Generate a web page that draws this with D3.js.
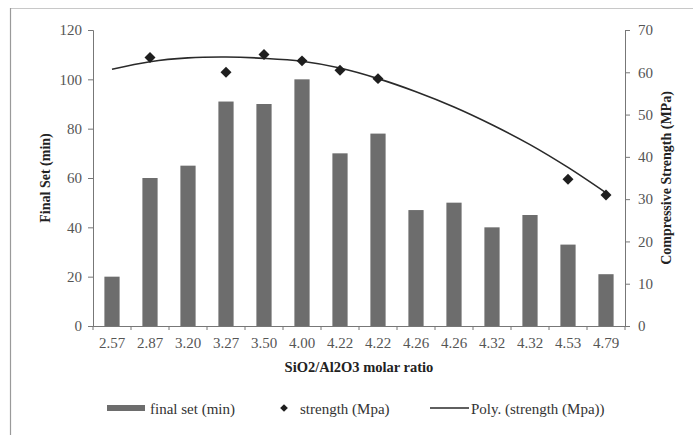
<!DOCTYPE html>
<html>
<head>
<meta charset="utf-8">
<script src="https://cdn.jsdelivr.net/npm/d3@7"></script>
<style>
  body { margin: 0; background: #fff; }
</style>
</head>
<body>
<svg id="chart" width="693" height="435" font-family="Liberation Serif, Times New Roman, serif"></svg>
<script>
// category labels (SiO2/Al2O3 molar ratio)
const ratios = ["2.57", "2.87", "3.20", "3.27", "3.50", "4.00", "4.22", "4.22", "4.26", "4.26", "4.32", "4.32", "4.53", "4.79"];
// final set time (min), left axis
const finalSet = [20, 60, 65, 91, 90, 100, 70, 78, 47, 50, 40, 45, 33, 21];
// compressive strength (MPa), right axis, null = not measured
const strength = [null, 63.5, null, 60, 64.2, 62.7, 60.5, 58.5, null, null, null, null, 34.7, 31];
// polynomial trendline at each category
const trend = [60.7, 62.5, 63.4, 63.6, 63.3, 62.6, 61.0, 58.5, 55.4, 51.8, 47.6, 42.9, 37.5, 31.5];
const leftTicks = [0, 20, 40, 60, 80, 100, 120];
const rightTicks = [0, 10, 20, 30, 40, 50, 60, 70];

const serif = "Liberation Serif, Times New Roman, serif";
const svg = d3.select("#chart");
const plot = {left: 93, right: 625, top: 30, bottom: 326};

// outer frame (top and left edges show in the scan)
svg.append("line").attr("x1", 10).attr("x2", 693).attr("y1", 8.5).attr("y2", 8.5)
    .attr("stroke", "#c8c8c8").attr("stroke-width", 1.2);
svg.append("line").attr("x1", 10.5).attr("x2", 10.5).attr("y1", 8).attr("y2", 435)
    .attr("stroke", "#9a9a9a").attr("stroke-width", 1.2);

let x = d3.scaleBand().domain(d3.range(ratios.length))
    .range([plot.left, plot.right]).paddingInner(0.6).paddingOuter(0.3);
let yL = d3.scaleLinear().domain([0, 120]).range([plot.bottom, plot.top]);
let yR = d3.scaleLinear().domain([0, 70]).range([plot.bottom, plot.top]);
let cx = function(i){ return x(i) + x.bandwidth() / 2; };

// bars
svg.selectAll(".bar")
    .data(finalSet)
    .enter().append("rect")
    .attr("class", "bar")
    .attr("x", function(d, i){ return x(i); })
    .attr("y", function(d){ return yL(d); })
    .attr("width", x.bandwidth())
    .attr("height", function(d){ return plot.bottom - yL(d); })
    .style("fill", "#6d6d6d");

// left axis
let axisL = svg.append("g").attr("transform", "translate(" + plot.left + ",0)")
    .call(d3.axisLeft(yL).tickValues(leftTicks).tickSize(5).tickPadding(6));
// right axis
let axisR = svg.append("g").attr("transform", "translate(" + plot.right + ",0)")
    .call(d3.axisRight(yR).tickValues(rightTicks).tickSize(5).tickPadding(8));
// bottom axis: ticks on category boundaries
let bounds = d3.range(ratios.length + 1).map(function(i){ return plot.left + i * (plot.right - plot.left) / ratios.length; });
let axisB = svg.append("g");
axisB.append("line").attr("x1", plot.left).attr("x2", plot.right)
    .attr("y1", plot.bottom + 0.5).attr("y2", plot.bottom + 0.5).attr("stroke", "#777");
axisB.selectAll(".btick").data(bounds).enter().append("line")
    .attr("x1", function(d){ return d; }).attr("x2", function(d){ return d; })
    .attr("y1", plot.bottom).attr("y2", plot.bottom + 4).attr("stroke", "#777");
axisB.selectAll(".blabel").data(ratios).enter().append("text")
    .attr("x", function(d, i){ return cx(i); })
    .attr("y", plot.bottom + 22)
    .attr("text-anchor", "middle")
    .style("font-family", serif).style("font-size", "15px").style("fill", "#555")
    .text(function(d){ return d; });

[axisL, axisR].forEach(function(a){
    a.attr("font-family", serif);
    a.select(".domain").attr("stroke", "#777");
    a.selectAll(".tick line").attr("stroke", "#777");
    a.selectAll(".tick text").style("font-size", "15px").style("fill", "#555")
        .style("font-family", serif);
});

// trendline
svg.append("path")
    .datum(trend)
    .attr("d", d3.line()
        .x(function(d, i){ return cx(i); })
        .y(function(d){ return yR(d); })
        .curve(d3.curveCatmullRom))
    .attr("fill", "none").attr("stroke", "#2a2a2a").attr("stroke-width", 1.6);

// strength points (diamond = square turned 45 degrees)
let diamond = d3.symbol().type(d3.symbolSquare).size(60);
svg.selectAll(".pt")
    .data(strength.map(function(v, i){ return {v: v, i: i}; }).filter(function(d){ return d.v !== null; }))
    .enter().append("path")
    .attr("class", "pt")
    .attr("transform", function(d){ return "translate(" + cx(d.i) + "," + yR(d.v) + ") rotate(45)"; })
    .attr("d", diamond)
    .style("fill", "#1e1e1e");

// axis titles
svg.append("text")
    .attr("transform", "translate(50," + ((plot.top + plot.bottom) / 2) + ") rotate(-90)")
    .attr("text-anchor", "middle")
    .style("font-family", serif).style("font-size", "14px").style("font-weight", "bold").style("fill", "#222")
    .text("Final Set (min)");
svg.append("text")
    .attr("transform", "translate(671," + ((plot.top + plot.bottom) / 2) + ") rotate(-90)")
    .attr("text-anchor", "middle")
    .style("font-family", serif).style("font-size", "14px").style("font-weight", "bold").style("fill", "#222")
    .text("Compressive Strength (MPa)");
svg.append("text")
    .attr("x", (plot.left + plot.right) / 2).attr("y", 372)
    .attr("text-anchor", "middle")
    .style("font-family", serif).style("font-size", "14.5px").style("font-weight", "bold").style("fill", "#222")
    .text("SiO2/Al2O3 molar ratio");

// legend
let lg = svg.append("g").style("font-family", serif).style("font-size", "15px").style("fill", "#333");
lg.append("rect").attr("x", 107).attr("y", 405).attr("width", 38).attr("height", 6).style("fill", "#6d6d6d");
lg.append("text").attr("x", 150).attr("y", 414).text("final set (min)");
lg.append("path").attr("transform", "translate(284,408) rotate(45)")
    .attr("d", d3.symbol().type(d3.symbolSquare).size(30)).style("fill", "#1e1e1e");
lg.append("text").attr("x", 300).attr("y", 414).text("strength (Mpa)");
lg.append("line").attr("x1", 430).attr("x2", 469).attr("y1", 408).attr("y2", 408)
    .attr("stroke", "#2a2a2a").attr("stroke-width", 1.6);
lg.append("text").attr("x", 471).attr("y", 414).text("Poly. (strength (Mpa))");
</script>
</body>
</html>
